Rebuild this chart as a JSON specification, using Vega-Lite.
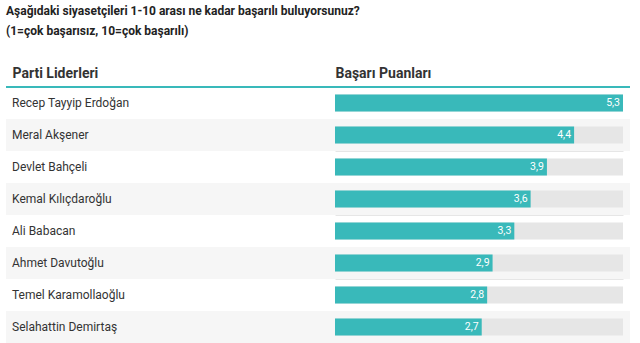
{
  "$schema": "https://vega.github.io/schema/vega-lite/v6.json",
  "width": 624,
  "height": 256,
  "autosize": {"type": "none"},
  "padding": {"left": 6, "top": 87, "right": 10, "bottom": 0},
  "background": "white",
  "title": {
    "text": "Aşağıdaki siyasetçileri 1-10 arası ne kadar başarılı buluyorsunuz?",
    "subtitle": "(1=çok başarısız, 10=çok başarılı)",
    "anchor": "start",
    "frame": "group",
    "font": "Roboto",
    "fontSize": 12,
    "fontWeight": "bold",
    "color": "#222222",
    "subtitleFont": "Roboto",
    "subtitleFontSize": 12,
    "subtitleFontWeight": "bold",
    "subtitleColor": "#222222",
    "subtitlePadding": 8,
    "offset": 28
  },
  "data": {
    "values": [
      {"lider": "Recep Tayyip Erdoğan", "puan": 5.3},
      {"lider": "Meral Akşener", "puan": 4.4},
      {"lider": "Devlet Bahçeli", "puan": 3.9},
      {"lider": "Kemal Kılıçdaroğlu", "puan": 3.6},
      {"lider": "Ali Babacan", "puan": 3.3},
      {"lider": "Ahmet Davutoğlu", "puan": 2.9},
      {"lider": "Temel Karamollaoğlu", "puan": 2.8},
      {"lider": "Selahattin Demirtaş", "puan": 2.7}
    ]
  },
  "encoding": {
    "y": {
      "field": "lider",
      "type": "nominal",
      "sort": ["Recep Tayyip Erdoğan", "Meral Akşener", "Devlet Bahçeli", "Kemal Kılıçdaroğlu", "Ali Babacan", "Ahmet Davutoğlu", "Temel Karamollaoğlu", "Selahattin Demirtaş"],
      "scale": {"paddingInner": 0, "paddingOuter": 0},
      "axis": {
        "title": "Parti Liderleri",
        "titleAngle": 0,
        "titleAlign": "left",
        "titleBaseline": "alphabetic",
        "titleX": 6,
        "titleY": -10,
        "titleFont": "Roboto",
        "titleFontSize": 14,
        "titleFontWeight": "bold",
        "titleColor": "#333333",
        "labels": false,
        "ticks": false,
        "domain": false,
        "grid": true,
        "bandPosition": 0,
        "gridColor": "#e6e6e6",
        "gridWidth": 1
      }
    }
  },
  "layer": [
    {
      "transform": [
        {"window": [{"op": "row_number", "as": "sira"}]},
        {"filter": "datum.sira % 2 == 0"}
      ],
      "mark": {"type": "bar", "color": "#f6f6f6"},
      "encoding": {
        "x": {"value": 0},
        "x2": {"value": "width"}
      }
    },
    {
      "mark": {"type": "bar", "color": "#e6e6e6", "size": 17},
      "encoding": {
        "x": {
          "datum": 5.3,
          "type": "quantitative",
          "scale": {"domain": [0, 5.3], "range": [329, 617], "nice": false, "zero": true},
          "axis": {
            "orient": "top",
            "title": "Başarı Puanları",
            "titleAnchor": "start",
            "titleBaseline": "alphabetic",
            "titlePadding": 10,
            "titleFont": "Roboto",
            "titleFontSize": 14,
            "titleFontWeight": "bold",
            "titleColor": "#333333",
            "labels": false,
            "ticks": false,
            "domain": false,
            "grid": false
          }
        }
      }
    },
    {
      "mark": {"type": "bar", "color": "#39b9ba", "size": 17},
      "encoding": {
        "x": {"field": "puan", "type": "quantitative"}
      }
    },
    {
      "mark": {"type": "text", "align": "right", "baseline": "middle", "dx": -3, "color": "white", "font": "Roboto", "fontSize": 10.5},
      "encoding": {
        "x": {"field": "puan", "type": "quantitative"},
        "text": {"field": "puan", "type": "quantitative", "format": ".1f"}
      }
    },
    {
      "mark": {"type": "text", "align": "left", "baseline": "middle", "color": "#333333", "font": "Roboto", "fontSize": 12},
      "encoding": {
        "x": {"value": 6},
        "text": {"field": "lider"}
      }
    },
    {
      "mark": {"type": "rule", "color": "#39b9ba", "strokeWidth": 2},
      "encoding": {
        "y": {"value": 0},
        "x": {"value": 0},
        "x2": {"value": "width"}
      }
    }
  ],
  "config": {
    "view": {"stroke": null},
    "locale": {
      "number": {"decimal": ",", "thousands": ".", "grouping": [3], "currency": ["", " TL"]}
    }
  }
}
